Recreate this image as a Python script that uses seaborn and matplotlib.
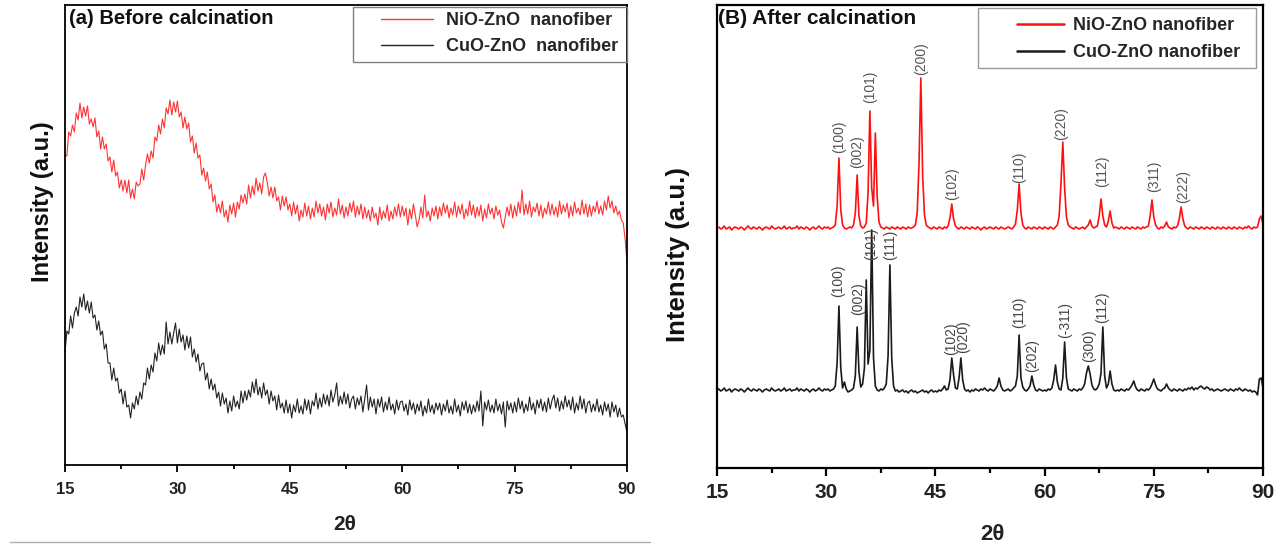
import numpy as np
import pandas as pd
import matplotlib
matplotlib.use("Agg")
import matplotlib.pyplot as plt
import seaborn as sns
from matplotlib.lines import Line2D
from matplotlib.patches import Rectangle
from matplotlib.ticker import MultipleLocator

# ---------------- data ----------------
two_theta_start = 15.0
two_theta_stop = 90.0
two_theta_step = 0.25

series_names = ["NiO-ZnO  nanofiber", "CuO-ZnO  nanofiber"]
series_names_b = ["NiO-ZnO nanofiber", "CuO-ZnO nanofiber"]

before_nio_zno = [
    310, 309, 333, 329, 340, 333, 352, 345, 362, 347, 358, 349, 359, 341, 346, 338, 347, 328, 334, 316,
    328, 316, 321, 304, 308, 293, 305, 289, 293, 277, 285, 274, 285, 272, 285, 267, 276, 266, 283, 279,
    281, 296, 285, 300, 311, 302, 314, 307, 328, 324, 340, 331, 346, 337, 357, 351, 365, 350, 363, 353,
    364, 348, 353, 337, 348, 336, 342, 323, 329, 312, 322, 307, 310, 290, 297, 284, 293, 276, 281, 263,
    270, 253, 261, 252, 264, 248, 255, 243, 260, 251, 262, 248, 263, 256, 270, 262, 271, 261, 280, 267,
    279, 270, 287, 274, 282, 271, 288, 292, 282, 269, 278, 267, 278, 264, 268, 255, 269, 259, 268, 255,
    261, 249, 263, 251, 260, 244, 255, 248, 262, 249, 259, 246, 257, 248, 264, 252, 261, 249, 258, 245,
    261, 252, 263, 248, 257, 250, 266, 251, 260, 247, 258, 249, 262, 253, 264, 248, 259, 250, 261, 246,
    258, 247, 255, 244, 258, 247, 252, 240, 258, 245, 254, 247, 260, 244, 254, 246, 258, 249, 261, 248,
    259, 249, 257, 240, 256, 246, 261, 250, 238, 245, 258, 247, 270, 248, 254, 244, 257, 249, 259, 246,
    258, 249, 262, 252, 260, 247, 257, 250, 263, 248, 259, 251, 261, 246, 256, 249, 264, 250, 260, 247,
    258, 249, 260, 244, 256, 247, 261, 251, 257, 246, 259, 250, 255, 243, 237, 248, 258, 249, 261, 247,
    259, 249, 263, 252, 275, 250, 261, 251, 264, 248, 258, 253, 262, 249, 260, 247, 257, 251, 263, 250,
    261, 250, 258, 248, 264, 251, 260, 253, 262, 247, 259, 249, 263, 252, 257, 250, 265, 251, 261, 248,
    260, 249, 259, 253, 264, 251, 259, 250, 264, 255, 269, 257, 264, 252, 259, 250, 254, 245, 242, 226,
    202,
]

before_cuo_zno = [
    113, 134, 131, 149, 137, 152, 158, 149, 168, 158, 171, 155, 164, 152, 163, 147, 150, 135, 144, 130,
    134, 116, 121, 102, 102, 85, 97, 84, 87, 72, 76, 61, 74, 58, 60, 47, 62, 56, 69, 60,
    73, 66, 82, 80, 97, 86, 100, 93, 112, 104, 122, 110, 120, 111, 143, 121, 133, 121, 132, 142,
    122, 136, 123, 130, 115, 129, 117, 128, 108, 116, 103, 111, 94, 101, 102, 85, 92, 76, 86, 75,
    81, 67, 73, 59, 72, 61, 67, 52, 64, 54, 69, 58, 64, 56, 74, 62, 74, 65, 75, 68,
    83, 72, 86, 70, 78, 67, 82, 70, 75, 61, 74, 64, 69, 55, 70, 57, 62, 52, 65, 52,
    61, 47, 60, 53, 66, 52, 59, 51, 66, 55, 65, 51, 64, 59, 72, 56, 67, 58, 71, 61,
    70, 59, 75, 63, 70, 82, 59, 69, 61, 73, 61, 71, 57, 66, 69, 56, 67, 60, 69, 53,
    66, 80, 55, 68, 58, 66, 51, 66, 58, 68, 53, 63, 55, 68, 55, 61, 51, 65, 55, 63,
    64, 54, 61, 50, 65, 55, 62, 51, 61, 54, 64, 49, 59, 52, 66, 53, 60, 51, 62, 55,
    62, 50, 61, 54, 65, 52, 59, 51, 66, 53, 60, 49, 63, 55, 64, 52, 61, 51, 60, 53,
    64, 54, 74, 39, 63, 55, 65, 53, 60, 52, 66, 54, 61, 51, 63, 38, 64, 55, 62, 52,
    63, 53, 67, 56, 64, 52, 61, 54, 68, 55, 62, 51, 65, 57, 66, 54, 63, 53, 67, 56,
    65, 70, 57, 67, 54, 64, 56, 69, 58, 65, 55, 68, 52, 62, 55, 69, 56, 66, 52, 62,
    64, 53, 61, 54, 66, 53, 60, 50, 63, 54, 61, 48, 63, 53, 60, 48, 57, 48, 50, 41,
    33,
]

after_nio_zno = [
    240, 241, 239, 240, 242, 239, 240, 241, 238, 240, 241, 240, 239, 241, 240, 238, 240, 242, 240, 239,
    241, 240, 239, 241, 240, 238, 240, 241, 240, 239, 242, 240, 239, 240, 241, 239, 240, 242, 239, 240,
    241, 239, 240, 240, 242, 239, 241, 240, 239, 241, 240, 238, 240, 241, 239, 240, 242, 240, 239, 241,
    240, 241, 239, 240, 241, 243, 262, 310, 258, 243, 240, 239, 240, 241, 240, 243, 255, 293, 252, 242,
    240, 241, 245, 275, 357, 280, 262, 335, 272, 246, 241, 240, 239, 241, 240, 239, 241, 240, 239, 241,
    240, 239, 241, 240, 239, 241, 240, 240, 241, 243, 255, 305, 390, 292, 253, 243, 241, 240, 239, 241,
    240, 239, 241, 240, 239, 241, 240, 242, 250, 264, 249, 242, 240, 239, 241, 240, 239, 241, 240, 239,
    241, 240, 239, 241, 240, 238, 240, 241, 239, 240, 241, 240, 239, 241, 240, 239, 241, 240, 239, 240,
    241, 240, 239, 241, 244, 258, 284, 255, 243, 240, 239, 241, 240, 239, 241, 240, 239, 241, 240, 239,
    241, 240, 239, 241, 240, 239, 241, 243, 252, 285, 326, 280, 251, 243, 241, 240, 239, 241, 240, 239,
    240, 241, 239, 241, 243, 248, 242, 240, 241, 242, 252, 269, 252, 243, 241, 247, 257, 245, 240, 241,
    240, 239, 241, 240, 239, 241, 240, 239, 241, 240, 239, 241, 240, 239, 241, 240, 241, 242, 252, 268,
    251, 243, 240, 239, 241, 240, 242, 246, 241, 240, 239, 241, 240, 242, 249, 261, 249, 242, 240, 239,
    241, 240, 239, 241, 240, 239, 241, 240, 239, 241, 240, 239, 241, 240, 239, 241, 240, 239, 241, 240,
    239, 241, 240, 239, 241, 240, 239, 241, 240, 239, 241, 240, 242, 240, 239, 241, 240, 241, 249, 252,
    244,
]

after_cuo_zno = [
    78, 79, 77, 78, 80, 77, 78, 79, 76, 78, 79, 78, 77, 79, 78, 76, 78, 80, 78, 77,
    79, 78, 77, 79, 78, 76, 78, 79, 78, 77, 80, 78, 77, 78, 79, 77, 78, 80, 77, 78,
    79, 77, 78, 78, 80, 77, 79, 78, 77, 79, 78, 76, 78, 79, 77, 78, 80, 78, 77, 79,
    78, 79, 77, 78, 79, 82, 105, 162, 100, 80, 86, 79, 76, 77, 78, 80, 92, 141, 96, 81,
    84, 100, 188, 104, 118, 238, 110, 82, 78, 77, 79, 78, 80, 84, 112, 203, 110, 82, 77, 78,
    76, 77, 78, 76, 77, 75, 77, 78, 76, 77, 75, 76, 77, 78, 76, 77, 75, 77, 78, 76,
    77, 76, 78, 77, 79, 82, 78, 79, 88, 110, 93, 80, 79, 90, 110, 88, 79, 77, 78, 76,
    78, 77, 79, 78, 77, 79, 78, 80, 78, 77, 79, 78, 77, 79, 82, 90, 82, 78, 77, 78,
    79, 77, 78, 80, 82, 92, 133, 90, 81, 78, 77, 79, 82, 92, 83, 78, 77, 79, 78, 77,
    78, 77, 79, 78, 80, 88, 103, 86, 79, 78, 90, 126, 90, 79, 78, 77, 79, 78, 77, 79,
    78, 80, 84, 95, 102, 94, 83, 79, 78, 80, 84, 95, 141, 92, 80, 84, 97, 84, 78, 77,
    78, 77, 79, 78, 77, 79, 78, 80, 83, 87, 81, 78, 77, 79, 78, 77, 79, 78, 80, 84,
    89, 83, 79, 78, 77, 79, 80, 84, 80, 78, 77, 79, 78, 77, 79, 78, 77, 79, 78, 80,
    79, 81, 78, 80, 79, 81, 82, 80, 79, 81, 80, 78, 79, 77, 78, 79, 78, 77, 78, 79,
    78, 77, 79, 78, 77, 79, 78, 80, 78, 77, 79, 78, 77, 78, 76, 77, 76, 73, 89, 90,
    80,
]

nio_peak_labels = ["(100)", "(002)", "(101)", "(200)", "(102)", "(110)", "(220)", "(112)", "(311)", "(222)"]
nio_peak_angles = [31.75, 34.25, 36.0, 43.0, 47.25, 56.5, 62.3, 67.9, 75.0, 79.0]
nio_label_base = [315, 300, 365, 393, 268, 285, 328, 281, 276, 265]

cuo_peak_labels = ["(100)", "(002)", "(101)", "(111)", "(102)", "(020)", "(110)", "(202)", "(-311)", "(300)", "(112)"]
cuo_peak_angles = [31.7, 34.4, 36.2, 38.8, 47.2, 48.8, 56.5, 58.3, 62.8, 66.1, 67.9]
cuo_label_base = [171, 153, 208, 208, 113, 115, 140, 96, 130, 106, 145]

x_ticks = [15, 30, 45, 60, 75, 90]

# ---------------- figure ----------------
sns.set_theme(style="white")
plt.rcParams["font.family"] = ["Liberation Sans", "DejaVu Sans"]

W, H = 1285, 551
fig = plt.figure(figsize=(W / 100, H / 100), dpi=100)

def fx(px):
    return px / W

def fy(py):
    return 1 - py / H

two_theta = np.arange(two_theta_start, two_theta_stop + two_theta_step / 2, two_theta_step)

df_a = pd.DataFrame({
    "two_theta": np.concatenate([two_theta, two_theta]),
    "intensity": np.concatenate([before_nio_zno, before_cuo_zno]),
    "sample": [series_names[0]] * len(two_theta) + [series_names[1]] * len(two_theta),
})
df_b = pd.DataFrame({
    "two_theta": np.concatenate([two_theta, two_theta]),
    "intensity": np.concatenate([after_nio_zno, after_cuo_zno]),
    "sample": [series_names_b[0]] * len(two_theta) + [series_names_b[1]] * len(two_theta),
})

red_a, black_a = "#ff3333", "#222222"
red_b, black_b = "#ff1010", "#1a1a1a"

# panel (a)
ax1 = fig.add_axes([fx(65), fy(465), fx(627) - fx(65), fy(5) - fy(465)])
sns.lineplot(data=df_a, x="two_theta", y="intensity", hue="sample",
             palette={series_names[0]: red_a, series_names[1]: black_a},
             estimator=None, sort=False, linewidth=0.8, legend=False, ax=ax1)
ax1.set_xlim(15, 90)
ax1.set_ylim(0, 460)

# panel (b)
ax2 = fig.add_axes([fx(717), fy(468), fx(1263) - fx(717), fy(5) - fy(468)])
sns.lineplot(data=df_b, x="two_theta", y="intensity", hue="sample",
             palette={series_names_b[0]: red_b, series_names_b[1]: black_b},
             estimator=None, sort=False, linewidth=1.2, legend=False, ax=ax2)
ax2.set_xlim(15, 90)
ax2.set_ylim(0, 463)

for ax, lw, tsz, maj, mnr, pad in [(ax1, 1.3, 12, 5.0, 3.2, 7), (ax2, 1.6, 15, 5.8, 3.6, 5)]:
    ax.set_xlabel("")
    ax.set_ylabel("")
    ax.set_yticks([])
    ax.set_xticks(x_ticks)
    ax.xaxis.set_minor_locator(MultipleLocator(7.5))
    ax.tick_params(axis="x", which="major", direction="out", length=maj, width=lw,
                   color="black", pad=pad, labelsize=tsz, bottom=True)
    ax.tick_params(axis="x", which="minor", direction="out", length=mnr, width=lw,
                   color="black", bottom=True)
    for lab in ax.get_xticklabels():
        lab.set_fontweight("bold")
        lab.set_color("#222222")
    for s in ax.spines.values():
        s.set_visible(True)
        s.set_color("black")
        s.set_linewidth(lw)
    ax.set_facecolor("white")

# peak labels
for name, ang, base in zip(nio_peak_labels, nio_peak_angles, nio_label_base):
    ax2.text(ang, base, name, rotation=90, ha="center", va="bottom",
             fontsize=10, color="#555555")
for name, ang, base in zip(cuo_peak_labels, cuo_peak_angles, cuo_label_base):
    ax2.text(ang, base, name, rotation=90, ha="center", va="bottom",
             fontsize=10, color="#444444")

# titles
ax1.text(fx(69), fy(18), "(a) Before calcination", transform=fig.transFigure,
         ha="left", va="center", fontsize=14.5, fontweight="bold", color="#111111")
ax2.text(fx(718), fy(19), "(B) After calcination", transform=fig.transFigure,
         ha="left", va="center", fontsize=15, fontweight="bold", color="#111111")

# axis labels
fig.text(fx(43), fy(202), "Intensity (a.u.)", rotation=90, ha="center", va="center",
         fontsize=17, fontweight="bold", color="#111111")
fig.text(fx(678), fy(255), "Intensity (a.u.)", rotation=90, ha="center", va="center",
         fontsize=18.5, fontweight="bold", color="#111111")
fig.text(fx(345), fy(524), "2θ", ha="center", va="center", fontsize=15,
         fontweight="bold", color="#222222")
fig.text(fx(992), fy(535), "2θ", ha="center", va="center", fontsize=16,
         fontweight="bold", color="#222222")

# legends (frame drawn separately to match the reference box)
fig.add_artist(Rectangle((fx(353), fy(62)), fx(627) - fx(353), fy(7) - fy(62),
                         transform=fig.transFigure, facecolor="none",
                         edgecolor="#808080", linewidth=1.0))
fig.add_artist(Rectangle((fx(978), fy(68)), fx(1256) - fx(978), fy(8) - fy(68),
                         transform=fig.transFigure, facecolor="none",
                         edgecolor="#9a9a9a", linewidth=1.0))

h_a = [Line2D([], [], color=red_a, lw=1.0), Line2D([], [], color=black_a, lw=1.0)]
h_b = [Line2D([], [], color=red_b, lw=1.8), Line2D([], [], color=black_b, lw=1.8)]
fig.legend(h_a, series_names, loc="upper right", bbox_to_anchor=(fx(618), fy(12)),
           bbox_transform=fig.transFigure, frameon=False, borderpad=0, borderaxespad=0,
           handlelength=2.9, handletextpad=0.7, labelspacing=0.5,
           prop={"size": 13, "weight": "bold"})
fig.legend(h_b, series_names_b, loc="upper right", bbox_to_anchor=(fx(1240), fy(17)),
           bbox_transform=fig.transFigure, frameon=False, borderpad=0, borderaxespad=0,
           handlelength=2.6, handletextpad=0.5, labelspacing=0.55,
           prop={"size": 13, "weight": "bold"})

# thin rule under the left panel
fig.add_artist(Line2D([fx(10), fx(650)], [fy(542), fy(542)], transform=fig.transFigure,
                      color="#b0b0b0", linewidth=1.0))

fig.savefig("out.png", dpi=100, facecolor="white")
